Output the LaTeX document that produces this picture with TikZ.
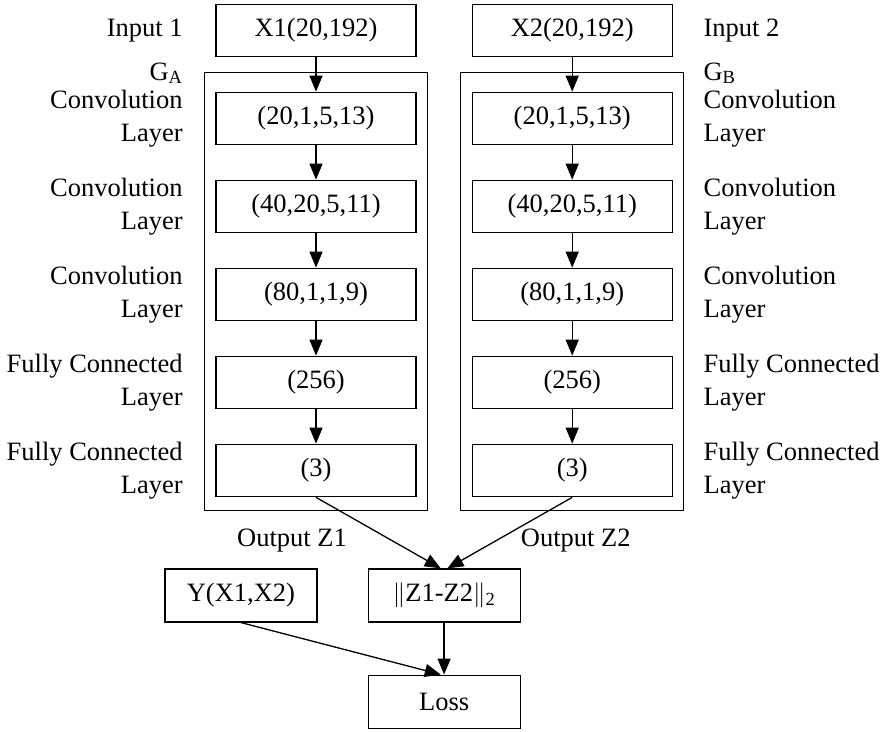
\documentclass[tikz,border=0pt]{standalone}
\usepackage{fontspec}
\setmainfont{Liberation Serif}
\usetikzlibrary{arrows.meta, positioning, fit, calc}

\begin{document}
\begin{tikzpicture}[
        node distance = 34.3pt,
        every node/.style = {font=\fontsize{26.5}{33}\selectfont},
        layerbox/.style = {draw, rectangle, line width=1.2pt, minimum width=200pt, minimum height=52.5pt, inner sep=0pt},
        outbox/.style = {draw, rectangle, line width=1.2pt, minimum width=152pt, minimum height=53pt, inner sep=0pt},
        netframe/.style = {draw, rectangle, line width=1.2pt, inner xsep=11pt, inner ysep=16pt},
        lbl/.style = {inner sep=0pt},
        lblA/.style = {lbl, anchor=east, align=right, xshift=-21pt},
        lblB/.style = {lbl, anchor=west, align=left, xshift=19pt},
        arrow/.style = {draw, -{Triangle[length=16pt, width=13pt]}, line width=1.3pt}
    ]
        \useasboundingbox (0,0) rectangle (880pt,-731pt);

        % Branch A
        \node (inA) [layerbox] at (316pt,-30.5pt) {X1(20,192)};
        \node (lA1) [layerbox, below=of inA] {(20,1,5,13)};
        \node (lA2) [layerbox, below=of lA1] {(40,20,5,11)};
        \node (lA3) [layerbox, below=of lA2] {(80,1,1,9)};
        \node (lA4) [layerbox, below=of lA3] {(256)};
        \node (lA5) [layerbox, below=of lA4] {(3)};
        \node (gA) [netframe, fit=(lA1)(lA5), yshift=3pt] {};

        % Branch B
        \node (inB) [layerbox, right=55pt of inA] {X2(20,192)};
        \node (lB1) [layerbox, below=of inB] {(20,1,5,13)};
        \node (lB2) [layerbox, below=of lB1] {(40,20,5,11)};
        \node (lB3) [layerbox, below=of lB2] {(80,1,1,9)};
        \node (lB4) [layerbox, below=of lB3] {(256)};
        \node (lB5) [layerbox, below=of lB4] {(3)};
        \node (gB) [netframe, fit=(lB1)(lB5), yshift=3pt] {};

        % Side labels
        \node (tinA) [lblA] at (gA.west |- inA) {Input 1};
        \node (tinB) [lblB] at (gB.east |- inB) {Input 2};
        \node (tgA) [lblA, anchor=base east, yshift=-8pt] at (gA.north west) {G\textsubscript{A}};
        \node (tgB) [lblB, anchor=base west, yshift=-8pt] at (gB.north east) {G\textsubscript{B}};
        \foreach \n/\t in {1/Convolution, 2/Convolution, 3/Convolution, 4/Fully Connected, 5/Fully Connected} {
            \node (tA\n) [lblA] at (gA.west |- lA\n) {\t\\Layer};
            \node (tB\n) [lblB] at (gB.east |- lB\n) {\t\\Layer};
        }

        % Loss part
        \coordinate (mid) at ($(lA5.south)!0.5!(lB5.south)$);
        \node (norm) [outbox, below=71pt of mid] {$\|$Z1-Z2$\|$\textsubscript{2}};
        \node (target) [outbox, left=50pt of norm] {Y(X1,X2)};
        \node (loss) [outbox, below=52pt of norm] {Loss};
        \node (outA) [lbl] at ([xshift=-24pt, yshift=-30pt]gA.south) {Output Z1};
        \node (outB) [lbl] at ([xshift=3.5pt, yshift=-30pt]gB.south) {Output Z2};

        % Connections
        \foreach \c in {A,B} {
            \draw [arrow] (in\c) -- (l\c1);
            \foreach \i/\j in {1/2, 2/3, 3/4, 4/5}
                \draw [arrow] (l\c\i) -- (l\c\j);
        }
        \draw [arrow] (lA5.south) -- (norm.97);
        \draw [arrow] (lB5.south) -- (norm.83);
        \draw [arrow] (norm) -- (loss);
        \draw [arrow] (target.south) -- (loss.97);

    \end{tikzpicture}
\end{document}
